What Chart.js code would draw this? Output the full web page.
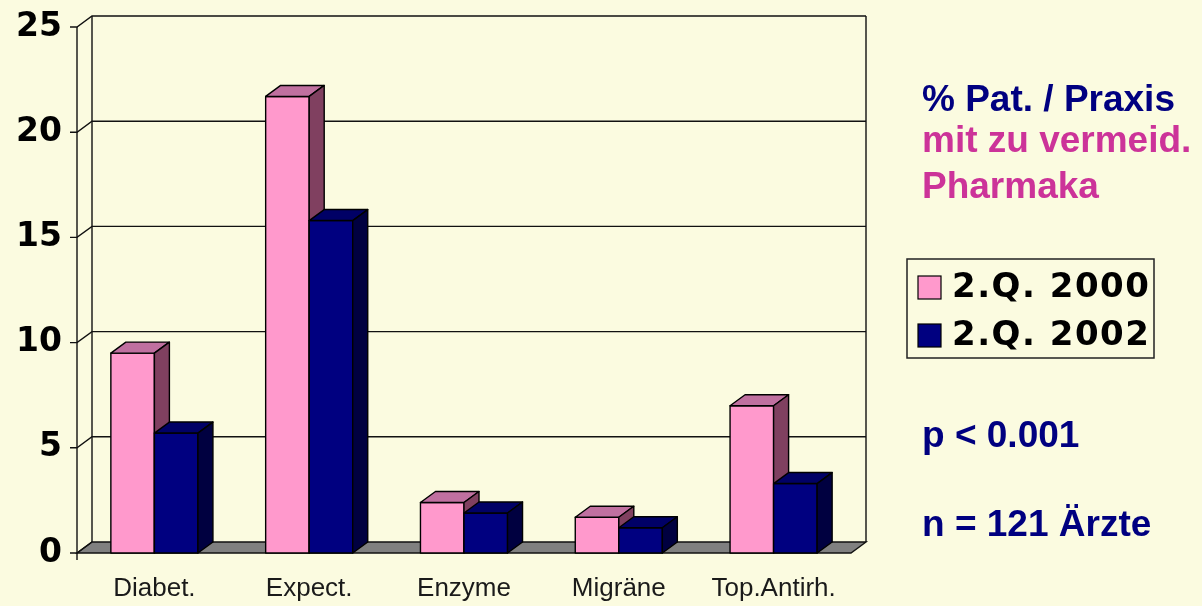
<!DOCTYPE html>
<html>
<head>
<meta charset="utf-8">
<script src="https://cdn.jsdelivr.net/npm/chart.js@4"></script>
<style>
html, body { margin:0; padding:0; background:#fbfbe0; }
#wrap { width:1202px; height:606px; position:relative; }
</style>
</head>
<body>
<div id="wrap"><canvas id="chart"></canvas></div>
<script>
// 데이터
const categories = ['Diabet.', 'Expect.', 'Enzyme', 'Migräne', 'Top.Antirh.'];
const series2000 = [9.5, 21.7, 2.4, 1.7, 7.0];
const series2002 = [5.7, 15.8, 1.9, 1.2, 3.3];
const seriesNames = ['2.Q. 2000', '2.Q. 2002'];
const yTicks = [0, 5, 10, 15, 20, 25];
const noteLines = ['% Pat. / Praxis', 'mit zu vermeid.', 'Pharmaka'];
const statLines = ['p < 0.001', 'n = 121 Ärzte'];

// 3D 깊이
const DX = 15, DY = 11;
const faces = [
    {front:'#ff99cc', top:'#c070a0', side:'#804060'},
    {front:'#000080', top:'#000066', side:'#000040'}
];

const depthPlugin = {
    id:'depth',
    beforeDraw(chart){
        let ctx = chart.ctx;
        ctx.save();
        ctx.fillStyle = '#fbfbe0';
        ctx.fillRect(0, 0, chart.width, chart.height);
        ctx.restore();
    },
    beforeDatasetsDraw(chart){
        let ctx = chart.ctx, a = chart.chartArea, y = chart.scales.y;
        ctx.save();
        ctx.lineWidth = 1.4;
        ctx.strokeStyle = '#111';
        // 바닥
        ctx.fillStyle = '#808080';
        ctx.beginPath();
        ctx.moveTo(a.left, a.bottom);
        ctx.lineTo(a.right, a.bottom);
        ctx.lineTo(a.right + DX, a.bottom - DY);
        ctx.lineTo(a.left + DX, a.bottom - DY);
        ctx.closePath();
        ctx.fill();
        ctx.stroke();
        // 뒷벽 격자
        yTicks.forEach((v) => {
            let py = y.getPixelForValue(v);
            ctx.beginPath();
            ctx.moveTo(a.left - 7, py);
            ctx.lineTo(a.left, py);
            ctx.lineTo(a.left + DX, py - DY);
            if(v > 0) ctx.lineTo(a.right + DX, py - DY);
            ctx.stroke();
        });
        ctx.beginPath();
        ctx.moveTo(a.left + DX, a.top - DY);
        ctx.lineTo(a.left + DX, a.bottom - DY);
        ctx.moveTo(a.right + DX, a.top - DY);
        ctx.lineTo(a.right + DX, a.bottom - DY);
        ctx.moveTo(a.left, a.top);
        ctx.lineTo(a.left, a.bottom + 7);
        ctx.stroke();
        ctx.restore();
    },
    afterDatasetsDraw(chart){
        let ctx = chart.ctx;
        ctx.save();
        ctx.lineWidth = 1.4;
        ctx.strokeStyle = '#000';
        ctx.lineJoin = 'round';
        chart.data.datasets.forEach((ds, i) => {
            let f = faces[i];
            chart.getDatasetMeta(i).data.forEach((bar) => {
                let p = bar.getProps(['x', 'y', 'base', 'width'], true);
                let l = p.x - p.width / 2, r = p.x + p.width / 2;
                // 앞면
                ctx.fillStyle = f.front;
                ctx.fillRect(l, p.y, p.width, p.base - p.y);
                ctx.strokeRect(l, p.y, p.width, p.base - p.y);
                // 윗면
                ctx.fillStyle = f.top;
                ctx.beginPath();
                ctx.moveTo(l, p.y);
                ctx.lineTo(l + DX, p.y - DY);
                ctx.lineTo(r + DX, p.y - DY);
                ctx.lineTo(r, p.y);
                ctx.closePath();
                ctx.fill(); ctx.stroke();
                // 옆면
                ctx.fillStyle = f.side;
                ctx.beginPath();
                ctx.moveTo(r, p.y);
                ctx.lineTo(r + DX, p.y - DY);
                ctx.lineTo(r + DX, p.base - DY);
                ctx.lineTo(r, p.base);
                ctx.closePath();
                ctx.fill(); ctx.stroke();
            });
        });
        ctx.restore();
    },
    afterDraw(chart){
        let ctx = chart.ctx;
        ctx.save();
        // 범례
        ctx.strokeStyle = '#222';
        ctx.lineWidth = 1.5;
        ctx.strokeRect(907, 259, 247, 99);
        ctx.lineWidth = 1.2;
        ctx.font = 'bold 34px "DejaVu Sans"';
        ctx.letterSpacing = '1.5px';
        ctx.textBaseline = 'alphabetic';
        chart.data.datasets.forEach((ds, i) => {
            let top = 276 + i * 48;
            ctx.fillStyle = ds.swatch;
            ctx.fillRect(918, top, 23, 23);
            ctx.strokeStyle = '#000';
            ctx.strokeRect(918, top, 23, 23);
            ctx.fillStyle = '#000';
            ctx.fillText(ds.label, 952, top + 21);
        });
        ctx.letterSpacing = '0px';
        // 설명
        ctx.font = 'bold 37px "Liberation Sans"';
        let noteY = [111, 152, 198];
        noteLines.forEach((t, i) => {
            ctx.fillStyle = i == 0 ? '#000080' : '#cc3399';
            ctx.fillText(t, 922, noteY[i]);
        });
        let statY = [447, 536];
        ctx.fillStyle = '#000080';
        statLines.forEach((t, i) => { ctx.fillText(t, 922, statY[i]); });
        ctx.restore();
    }
};

let ctx = document.getElementById('chart');
let myChart = new Chart(ctx, {
    type:'bar',
    data:{
        labels:categories,
        datasets:[
            {label:seriesNames[0], data:series2000, swatch:faces[0].front, backgroundColor:'rgba(0,0,0,0)', borderWidth:0, categoryPercentage:0.5625, barPercentage:1},
            {label:seriesNames[1], data:series2002, swatch:faces[1].front, backgroundColor:'rgba(0,0,0,0)', borderWidth:0, categoryPercentage:0.5625, barPercentage:1}
        ]
    },
    options:{
        responsive:true,
        maintainAspectRatio:false,
        animation:false,
        events:[],
        layout:{padding:{top:27, right:351, left:0, bottom:0}},
        plugins:{legend:{display:false}, tooltip:{enabled:false}},
        scales:{
            x:{
                grid:{display:false, drawTicks:false},
                border:{display:false},
                ticks:{padding:20, color:'#1a1a1a', font:{family:'Liberation Sans', size:26}, maxRotation:0, autoSkip:false},
                afterFit:(s) => { s.height = 53; s.paddingLeft = 0; s.paddingRight = 0; }
            },
            y:{
                min:0,
                max:25,
                afterBuildTicks:(s) => { s.ticks = yTicks.map((v) => ({value:v})); },
                grid:{display:false, drawTicks:false},
                border:{display:false},
                ticks:{padding:15, color:'#000', font:{family:'DejaVu Sans', weight:'bold', size:33}},
                afterFit:(s) => { s.width = 77; s.paddingTop = 0; s.paddingBottom = 0; }
            }
        }
    },
    plugins:[depthPlugin]
});
</script>
</body>
</html>
